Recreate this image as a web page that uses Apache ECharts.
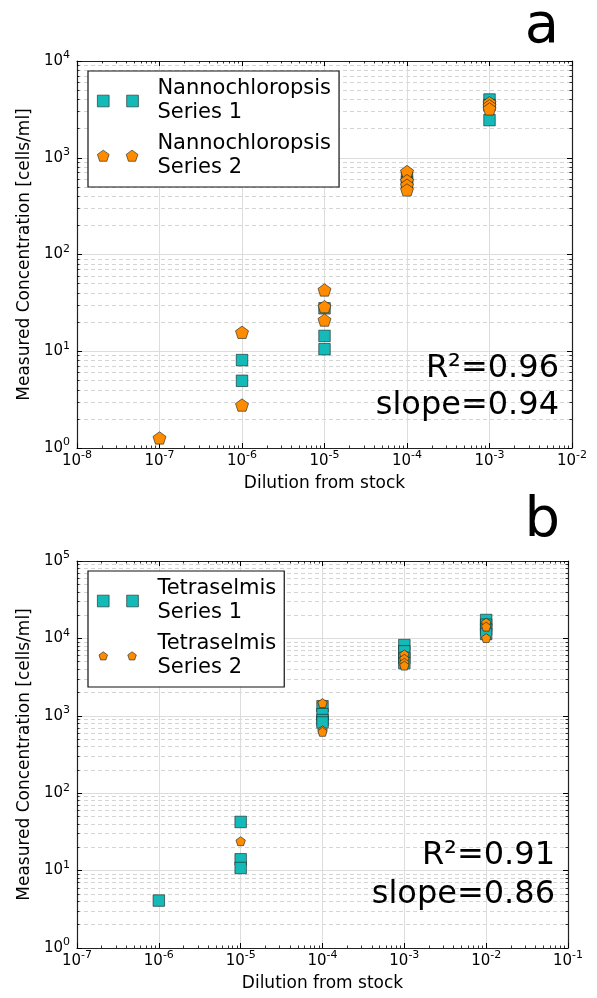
<!DOCTYPE html>
<html><head><meta charset="utf-8">
<script src="https://cdn.jsdelivr.net/npm/echarts@6/dist/echarts.min.js"></script>
<style>html,body{margin:0;padding:0;background:#fff}#c{width:597px;height:998px}</style>
</head><body><div id="c"></div>
<script>
// ---------- data (dilution from stock, measured concentration cells/ml) ----------
const nannoSeries1 = [[1e-6,8.1],[1e-6,4.95],[1e-5,27.8],[1e-5,14.4],[1e-5,10.5],[1e-4,630],[1e-4,560],[1e-3,4000],[1e-3,3500],[1e-3,2450]];
const nannoSeries2 = [[1e-7,1.27],[1e-6,15.7],[1e-6,2.78],[1e-5,43],[1e-5,28.9],[1e-5,21],[1e-4,720],[1e-4,580],[1e-4,520],[1e-4,465],[1e-3,3700],[1e-3,3450],[1e-3,3200]];
const tetraSeries1 = [[1e-6,4.1],[1e-5,42.5],[1e-5,14],[1e-5,10.8],[1e-4,1330],[1e-4,1050],[1e-4,880],[1e-4,820],[1e-3,8200],[1e-3,6800],[1e-3,5600],[1e-3,4800],[1e-2,17300],[1e-2,15000],[1e-2,13000],[1e-2,11400]];
const tetraSeries2 = [[1e-5,24],[1e-4,1460],[1e-4,650],[1e-4,620],[1e-3,6200],[1e-3,5450],[1e-3,4850],[1e-3,4450],[1e-2,16000],[1e-2,14200],[1e-2,10100]];
const seriesNamesA = ['Nannochloropsis\nSeries 1','Nannochloropsis\nSeries 2'];
const seriesNamesB = ['Tetraselmis\nSeries 1','Tetraselmis\nSeries 2'];
const xRangeA = [1e-8, 1e-2], yRangeA = [1, 1e4];
const xRangeB = [1e-7, 1e-1], yRangeB = [1, 1e5];
const statsA = ['R²=0.96','slope=0.94'];
const statsB = ['R²=0.91','slope=0.86'];
const panelLabels = ['a','b'];
const xTitle = 'Dilution from stock';
const yTitle = 'Measured Concentration [cells/ml]';

// ---------- styling ----------
const FF = '"DejaVu Sans", "Liberation Sans", sans-serif';
const TEAL = '#14BAB8', ORANGE = '#FF8C00';
const EDGE = 'rgba(20,30,30,0.75)';
const PENT = 'path://M0,-1L0.951,-0.309L0.588,0.809L-0.588,0.809L-0.951,-0.309Z';
const ICON_SQ = 'path://M0,0H12V12H0Z M30,0H42V12H30Z';
function pentIcon(r){
  const pts = c => [[0,-1],[0.951,-0.309],[0.588,0.809],[-0.588,0.809],[-0.951,-0.309]]
     .map(p => (c[0]+p[0]*r).toFixed(2)+','+(c[1]+p[1]*r).toFixed(2));
  const poly = c => 'M' + pts(c).join('L') + 'Z';
  return 'path://M0,0L0,0 M42,12L42,12 ' + poly([6,6.3]) + ' ' + poly([35.5,6.3]);
}
const labelFmt = v => '{b|10}{s|' + Math.round(Math.log10(v)) + '}';
const richLbl = {
  b:{fontSize:15, fontFamily:FF, color:'#000', lineHeight:22},
  s:{fontSize:11, fontFamily:FF, color:'#000', lineHeight:12, verticalAlign:'top'}
};
const tickCfg = {show:true, inside:true, length:5, lineStyle:{color:'#000', width:1}};
const minorTickCfg = {show:true, splitNumber:9, length:2.5, lineStyle:{color:'#000', width:0.8}};
const axisLineCfg = {show:true, onZero:false, lineStyle:{color:'#222', width:1.2}};

function xAxes(grid, range){
  const base = {type:'log', logBase:10, gridIndex:grid, min:range[0], max:range[1],
    axisLine:axisLineCfg, axisTick:tickCfg, minorTick:minorTickCfg};
  return [
    Object.assign({}, base, {position:'bottom',
      axisLabel:{show:true, interval:0, margin:2, formatter:labelFmt, rich:richLbl},
      splitLine:{show:true, lineStyle:{color:'#dcdcdc', width:1}},
      name:xTitle, nameLocation:'middle', nameGap:27,
      nameTextStyle:{fontSize:17, fontFamily:FF, color:'#000'}}),
    Object.assign({}, base, {position:'top', axisLabel:{show:false}, splitLine:{show:false}})
  ];
}
function yAxes(grid, range){
  const base = {type:'log', logBase:10, gridIndex:grid, min:range[0], max:range[1],
    axisLine:axisLineCfg, axisTick:tickCfg, minorTick:minorTickCfg};
  return [
    Object.assign({}, base, {position:'left',
      axisLabel:{show:true, interval:0, margin:7, formatter:labelFmt, rich:richLbl},
      splitLine:{show:true, lineStyle:{color:'#dcdcdc', width:1}},
      minorSplitLine:{show:true, lineStyle:{color:'#d4d4d4', width:1, type:[4,3]}},
      name:yTitle, nameLocation:'middle', nameGap:44,
      nameTextStyle:{fontSize:17, fontFamily:FF, color:'#000'}}),
    Object.assign({}, base, {position:'right', axisLabel:{show:false}, splitLine:{show:false}})
  ];
}
function sq(name, data, xi, yi){
  return {type:'scatter', name, data, xAxisIndex:xi, yAxisIndex:yi, symbol:'rect', symbolSize:11.5,
    itemStyle:{color:TEAL, borderColor:EDGE, borderWidth:0.8, opacity:1}, emphasis:{disabled:true}, z:3};
}
function pe(name, data, xi, yi, size){
  return {type:'scatter', name, data, xAxisIndex:xi, yAxisIndex:yi, symbol:PENT, symbolSize:[size, size*0.951],
    symbolKeepAspect:false,
    itemStyle:{color:ORANGE, borderColor:EDGE, borderWidth:0.8, opacity:1}, emphasis:{disabled:true}, z:4};
}
function legendCfg(top, names, pentR){
  return {orient:'vertical', left:88, top:top, backgroundColor:'#fff', borderColor:'#111', borderWidth:1.2,
    borderRadius:0, padding:[6,8,7,9], itemGap:7, itemWidth:41, itemHeight:12, selectedMode:false,
    itemStyle:{borderWidth:0.8, opacity:1},
    textStyle:{fontSize:21, fontFamily:FF, color:'#000', lineHeight:24, padding:[0,0,0,14]},
    data:[{name:names[0], icon:ICON_SQ}, {name:names[1], icon:pentIcon(pentR)}]};
}
function txt(x, y, text, size){
  return {type:'text', x, y, silent:true, z:100,
    style:{text, font:size+'px '+FF, fill:'#000', textAlign:'right', textVerticalAlign:'middle'}};
}

const chart = echarts.init(document.getElementById('c'), null, {renderer:'canvas'});
chart.setOption({
  animation:false,
  backgroundColor:'#fff',
  grid:[{left:77, top:61, width:495, height:387}, {left:77, top:561, width:491, height:387}],
  xAxis:[...xAxes(0, xRangeA), ...xAxes(1, xRangeB)],
  yAxis:[...yAxes(0, yRangeA), ...yAxes(1, yRangeB)],
  legend:[legendCfg(71, seriesNamesA, 6.3), legendCfg(571, seriesNamesB, 4.6)],
  series:[
    sq(seriesNamesA[0], nannoSeries1, 0, 0),
    pe(seriesNamesA[1], nannoSeries2, 0, 0, 13),
    sq(seriesNamesB[0], tetraSeries1, 2, 2),
    pe(seriesNamesB[1], tetraSeries2, 2, 2, 9.4)
  ],
  graphic:[
    txt(559, 369, statsA[0], 32), txt(559, 405.5, statsA[1], 32),
    txt(555, 856, statsB[0], 32), txt(555, 894.5, statsB[1], 32),
    txt(559, 27, panelLabels[0], 56), txt(560, 521, panelLabels[1], 56)
  ]
});
</script></body></html>
